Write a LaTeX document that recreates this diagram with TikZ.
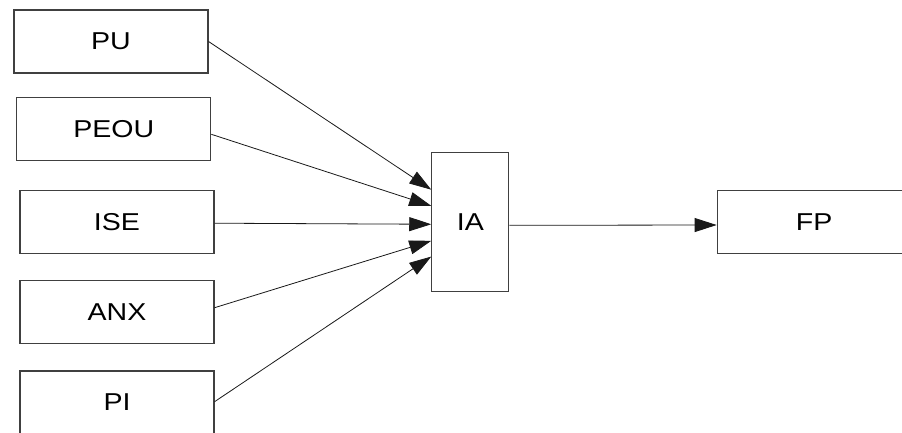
\documentclass[tikz,border=0pt]{standalone}
\usepackage{fontspec}
\newfontfamily\boxfont[FakeStretch=1.17]{Liberation Sans}
\usetikzlibrary{arrows.meta,calc}
\tikzset{
  box/.style={draw=black!75, line width=1.1pt, fill=white, inner sep=0pt,
    minimum width=194pt, minimum height=63pt,
    font=\boxfont\fontsize{24.4}{28}\selectfont, text=black},
  tall/.style={box, minimum width=77pt, minimum height=139.4pt},
  link/.style={draw=black!90, line width=0.8pt,
    -{Triangle[length=22pt,width=14pt]}},
}
\begin{document}
\begin{tikzpicture}[x=1pt,y=-1pt]
\useasboundingbox (0,0) rectangle (902,432);
\clip (0,0) rectangle (902,432);
\fill[white] (0,0) rectangle (902,432);

% input factors
\node[box] (pu)   at (111,   41.5) {PU};
\node[box] (peou) at (113.8, 129.3) {PEOU};
\node[box] (ise)  at (117,   221.7) {ISE};
\node[box] (anx)  at (117,   312) {ANX};
\node[box] (pi)   at (117,   402.5) {PI};

% mediator and outcome
\node[tall] (ia) at (470.3, 222) {IA};
\node[box]  (fp) at (814.2, 221.7) {FP};

% arrows into the mediator
\draw[link] (pu.east)                  -- ($(ia.north west)!0.27!(ia.south west)$);
\draw[link] ([yshift=-5pt]peou.east)   -- ($(ia.north west)!0.385!(ia.south west)$);
\draw[link] ([yshift=-1.5pt]ise.east)  -- ($(ia.north west)!0.516!(ia.south west)$);
\draw[link] ([yshift=4.3pt]anx.east)   -- ($(ia.north west)!0.634!(ia.south west)$);
\draw[link] ([yshift=0.8pt]pi.east)    -- ($(ia.north west)!0.746!(ia.south west)$);

% arrow to the outcome
\draw[link] ([yshift=-3.3pt]ia.east) -- ([yshift=-3.3pt]fp.west);
\end{tikzpicture}
\end{document}
